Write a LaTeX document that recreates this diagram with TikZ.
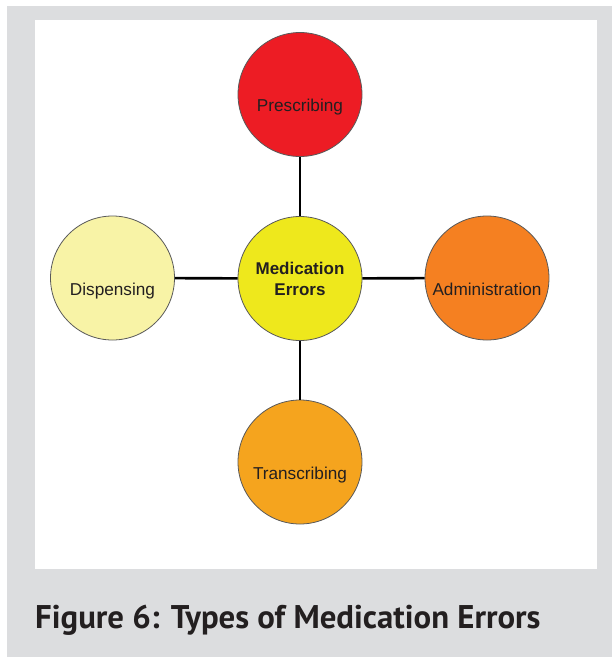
\documentclass[tikz,border=0pt]{standalone}
\usepackage{fontspec}
\setmainfont{Liberation Sans}
\newfontfamily\capfont{PT Sans}

\definecolor{framegrey}{HTML}{DCDDDF}
\definecolor{inkdark}{HTML}{231F20}
\definecolor{presred}{HTML}{ED1C24}
\definecolor{medyellow}{HTML}{EEE81C}
\definecolor{dispyellow}{HTML}{F8F3A6}
\definecolor{adminorange}{HTML}{F58021}
\definecolor{transorange}{HTML}{F5A41E}

\begin{document}
\begin{tikzpicture}[x=1pt, y=-1pt,
  bubble/.style={circle, draw=black!65, line width=0.8pt,
    minimum size=124pt, inner sep=0pt,
    text=inkdark, font=\fontsize{17.2}{21}\selectfont},
  outer/.style={bubble, text height=34pt, text depth=0pt},
  link/.style={line width=2.6pt, black}]

% === Frame ===
\useasboundingbox (0,0) rectangle (613,657);
\fill[framegrey] (7,5.5) rectangle (612,657);
\fill[white] (35,19.5) rectangle (597,569);

% === Bubbles ===
\node[bubble, fill=medyellow, align=center, font=\bfseries\fontsize{17}{21}\selectfont]
  (Errors) at (300,278.5) {Medication\\Errors};
\node[outer, fill=presred] (Prescribing) at (300,94.5) {Prescribing};
\node[outer, fill=dispyellow] (Dispensing) at (112.5,278) {Dispensing};
\node[outer, fill=adminorange] (Administration) at (487,278) {Administration};
\node[outer, fill=transorange] (Transcribing) at (300,462) {Transcribing};

% === Links ===
\draw[link] (Prescribing) -- (Errors);
\draw[link] (Errors) -- (Transcribing);
\draw[link] (Dispensing) -- (Errors);
\draw[link] (Errors) -- (Administration);

% === Caption ===
\node[anchor=base west, inner sep=0pt, text=inkdark,
  font=\capfont\bfseries\fontsize{32.8}{38}\selectfont]
  (Caption) at (35,628) {Figure 6: Types of Medication Errors};
\end{tikzpicture}
\end{document}
